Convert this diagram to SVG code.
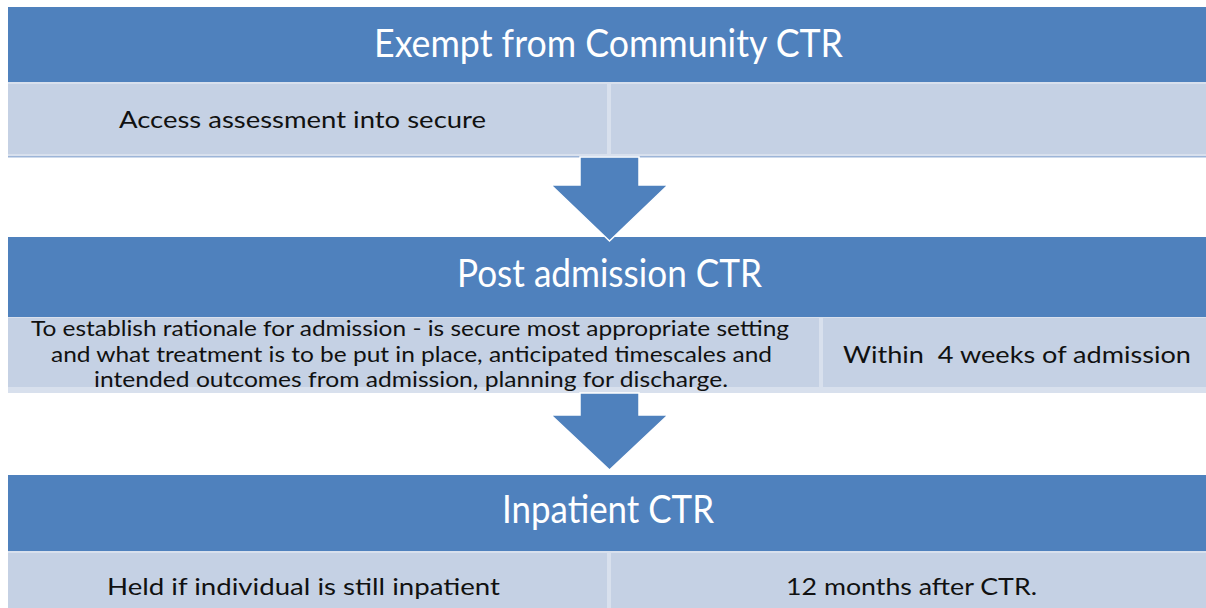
<svg xmlns="http://www.w3.org/2000/svg" width="1206" height="608" viewBox="0 0 1206 608">
<style>
.hdr{fill:#4F81BD}
.cell{fill:#C5D1E4}
.gap{fill:#D8E0ED}
.ht{font-family:Lato,"Open Sans","Liberation Sans",sans-serif;font-size:38px;fill:#FFFFFF}
.bt{font-family:Lato,"Open Sans","Liberation Sans",sans-serif;font-size:24px;fill:#111111}
.pt{font-family:Lato,"Open Sans","Liberation Sans",sans-serif;font-size:21px;fill:#111111}
.arrow{fill:#4F81BD;stroke:#FFFFFF;stroke-width:1.5}
</style>
<rect width="1206" height="608" fill="#FFFFFF"/>
<g id="stage1">
<rect class="hdr" x="8" y="7" width="1198" height="75"/>
<rect class="gap" x="8" y="82" width="1198" height="75"/>
<rect class="cell" x="8" y="84" width="599" height="70"/>
<rect class="cell" x="611" y="84" width="595" height="70"/>
<rect x="8" y="156" width="1198" height="1.5" fill="#9DB5D8"/>
<text class="ht" x="374" y="57" textLength="469" lengthAdjust="spacingAndGlyphs">Exempt from Community CTR</text>
<text class="bt" x="119" y="128" textLength="367" lengthAdjust="spacingAndGlyphs">Access assessment into secure</text>
</g>
<g id="stage2">
<rect class="hdr" x="8" y="237" width="1198" height="80"/>
<rect class="gap" x="8" y="317" width="1198" height="76"/>
<rect class="cell" x="8" y="318" width="811" height="69"/>
<rect class="cell" x="823" y="318" width="383" height="69"/>
<text class="ht" x="457" y="287" textLength="305" lengthAdjust="spacingAndGlyphs">Post admission CTR</text>
<text class="pt" x="31" y="336" textLength="758" lengthAdjust="spacingAndGlyphs">To establish rationale for admission - is secure most appropriate setting</text>
<text class="pt" x="51" y="362" textLength="721" lengthAdjust="spacingAndGlyphs">and what treatment is to be put in place, anticipated timescales and</text>
<text class="pt" x="94" y="387" textLength="634" lengthAdjust="spacingAndGlyphs">intended outcomes from admission, planning for discharge.</text>
<text class="bt" x="843" y="363" textLength="348" lengthAdjust="spacingAndGlyphs" xml:space="preserve">Within  4 weeks of admission</text>
</g>
<g id="stage3">
<rect class="hdr" x="8" y="475" width="1198" height="76"/>
<rect class="gap" x="8" y="551" width="1198" height="57"/>
<rect class="cell" x="8" y="553" width="599" height="55"/>
<rect class="cell" x="611" y="553" width="595" height="55"/>
<text class="ht" x="502" y="523" textLength="212" lengthAdjust="spacingAndGlyphs">Inpatient CTR</text>
<text class="bt" x="107" y="595" textLength="393" lengthAdjust="spacingAndGlyphs">Held if individual is still inpatient</text>
<text class="bt" x="786" y="595" textLength="251" lengthAdjust="spacingAndGlyphs">12 months after CTR.</text>
</g>
<g id="connectors">
<polygon class="arrow" points="580,157 639,157 639,185 668,185 609.5,241 551,185 580,185"/>
<polygon class="arrow" points="580,393 639,393 639,415 668,415 609.5,470 551,415 580,415"/>
</g>
</svg>
